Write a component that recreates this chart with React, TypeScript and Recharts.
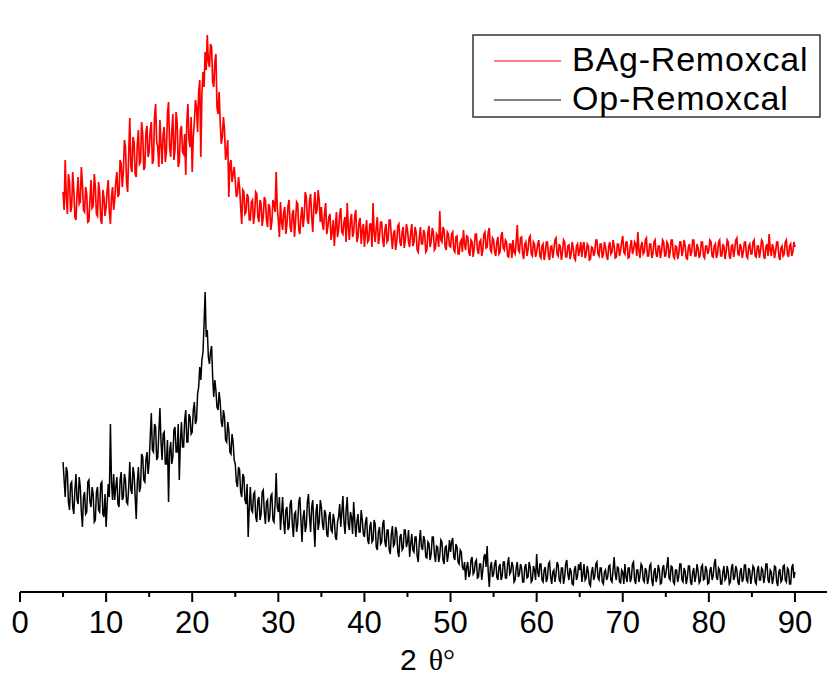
import React from "react";
import { LineChart, Line, XAxis, YAxis, Legend } from "recharts";

// XRD scans, 2θ from 5° to 90°, evenly stepped; intensity in arbitrary units.
// One row per 5° of 2θ.
const FIRST_ANGLE = 5;
const LAST_ANGLE = 90;

const BAG_REMOXCAL = [
  400, 382, 432, 395, 378, 418, 410, 380, 385, 420, 402, 375, 372, 398, 415, 388, 390, 425, 408, 382, 380, 405, 398, 370, 371, 392, 412, 384, 386, 418, 405, 378, 376, 410, 400, 372, 368, 402, 395, 376,
  385, 402, 412, 380, 368, 395, 405, 382, 392, 410, 420, 395, 398, 432, 428, 405, 420, 452, 445, 410, 400, 438, 474, 425, 420, 455, 450, 418, 415, 448, 462, 428, 430, 470, 458, 422, 425, 460, 466, 435,
  440, 462, 470, 428, 432, 475, 488, 450, 445, 425, 472, 448, 428, 458, 465, 430, 440, 478, 490, 445, 435, 460, 478, 432, 442, 480, 470, 425, 430, 462, 466, 440, 438, 458, 417, 470, 488, 452, 445, 475,
  420, 455, 470, 492, 485, 460, 500, 512, 435, 498, 520, 505, 540, 522, 557, 530, 525, 548, 545, 510, 505, 530, 538, 485, 478, 500, 470, 448, 455, 475, 462, 432, 440, 452, 395, 428, 432, 410, 418, 425,
  412, 395, 398, 415, 405, 385, 368, 402, 400, 378, 380, 398, 395, 372, 372, 390, 392, 368, 378, 400, 398, 375, 370, 392, 388, 366, 375, 395, 392, 372, 365, 388, 385, 362, 370, 392, 388, 380, 420, 385,
  372, 355, 390, 370, 362, 380, 385, 358, 368, 386, 392, 365, 360, 378, 382, 355, 370, 390, 388, 362, 358, 375, 385, 365, 375, 400, 395, 372, 368, 392, 398, 375, 360, 385, 400, 378, 382, 402, 392, 370,
  385, 368, 362, 380, 389, 358, 365, 375, 378, 352, 360, 372, 346, 365, 380, 355, 362, 378, 384, 360, 358, 370, 375, 350, 389, 365, 352, 372, 378, 355, 360, 376, 382, 350, 355, 370, 374, 348, 362, 368,
  345, 360, 372, 350, 352, 368, 368, 345, 389, 360, 350, 365, 375, 348, 355, 370, 370, 352, 345, 362, 368, 350, 352, 372, 372, 355, 343, 358, 362, 342, 350, 366, 368, 350, 346, 360, 365, 344, 352, 368,
  362, 350, 345, 360, 368, 346, 350, 365, 360, 342, 340, 355, 365, 348, 348, 362, 358, 340, 342, 360, 366, 345, 350, 364, 360, 342, 344, 358, 356, 345, 381, 352, 350, 365, 362, 345, 342, 360, 358, 346,
  345, 358, 360, 342, 340, 355, 356, 338, 338, 350, 352, 340, 362, 348, 342, 356, 355, 340, 336, 352, 350, 335, 344, 358, 358, 342, 338, 350, 352, 336, 342, 358, 360, 344, 345, 360, 364, 342, 340, 354,
  352, 340, 336, 350, 355, 338, 340, 356, 360, 344, 342, 352, 350, 336, 335, 348, 348, 334, 352, 340, 338, 350, 367, 342, 340, 354, 355, 338, 333, 348, 350, 336, 342, 354, 356, 338, 336, 350, 348, 335,
  340, 348, 352, 336, 334, 346, 348, 332, 338, 350, 350, 336, 332, 345, 346, 334, 342, 352, 354, 338, 336, 348, 345, 332, 340, 352, 350, 335, 335, 346, 347, 333, 338, 350, 344, 334, 332, 346, 348, 336,
  342, 350, 335, 346, 350, 334, 338, 348, 346, 332, 333, 345, 344, 336, 340, 352, 352, 338, 336, 348, 348, 334, 338, 350, 345, 336, 332, 346, 350, 338, 340, 352, 346, 334, 335, 348, 348, 336, 342, 350,
  356, 340, 338, 350, 350, 334, 335, 346, 352, 338, 342, 350, 348, 336, 360, 342, 334, 346, 350, 338, 340, 352, 354, 336, 336, 348, 348, 334, 338, 350, 352, 338, 335, 346, 346, 334, 340, 352, 350, 336,
  336, 350, 348, 334, 340, 352, 352, 336, 334, 346, 345, 333, 338, 350, 350, 336, 342, 352, 346, 334, 333, 345, 348, 336, 340, 352, 352, 336, 336, 348, 344, 334, 338, 350, 350, 336, 334, 346, 346, 338,
  342, 352, 350, 336, 335, 346, 348, 334, 338, 350, 352, 336, 336, 348, 345, 333, 340, 352, 350, 336, 333, 346, 347, 335, 342, 352, 354, 338, 337, 348, 345, 334, 340, 350, 350, 336, 334, 346, 348, 338,
  338, 350, 352, 336, 335, 346, 346, 334, 342, 352, 350, 336, 333, 345, 348, 336, 358, 342, 336, 348, 344, 334, 340, 350, 350, 336, 332, 344, 346, 336, 338, 350, 352, 338, 335, 346, 348, 336, 340, 350,
  345,
];

const OP_REMOXCAL = [
  130, 112, 95, 125, 120, 90, 82, 108, 110, 85, 78, 102, 118, 92, 88, 115, 105, 80, 65, 95, 100, 78, 80, 110, 112, 90, 85, 105, 98, 70, 72, 100, 105, 82, 80, 108, 110, 78, 75, 98,
  65, 88, 108, 95, 168, 110, 92, 118, 92, 105, 115, 88, 85, 112, 120, 92, 95, 118, 112, 90, 88, 105, 130, 102, 98, 125, 118, 95, 73, 110, 125, 100, 105, 138, 135, 112, 110, 132, 140, 118,
  130, 155, 179, 142, 140, 168, 165, 132, 135, 160, 184, 150, 132, 158, 160, 128, 128, 152, 90, 140, 150, 128, 135, 162, 165, 140, 140, 168, 112, 150, 170, 145, 145, 172, 182, 150, 150, 178, 175, 158,
  160, 182, 190, 168, 172, 198, 205, 225, 212, 232, 240, 268, 300, 255, 262, 235, 228, 240, 246, 215, 195, 212, 202, 185, 182, 200, 190, 170, 165, 182, 175, 152, 150, 170, 162, 140, 138, 158, 150, 132,
  128, 110, 105, 125, 122, 100, 95, 118, 115, 92, 88, 108, 55, 85, 105, 82, 80, 98, 100, 75, 70, 92, 95, 72, 78, 100, 102, 80, 68, 90, 92, 70, 75, 96, 98, 72, 70, 88, 119, 85,
  80, 95, 62, 78, 95, 70, 58, 82, 85, 62, 65, 88, 92, 68, 55, 78, 80, 60, 68, 90, 95, 72, 50, 75, 82, 60, 66, 90, 98, 75, 60, 85, 92, 66, 45, 80, 88, 62, 70, 92,
  85, 68, 62, 82, 78, 58, 55, 75, 80, 62, 60, 78, 72, 55, 52, 70, 75, 88, 65, 80, 96, 70, 58, 82, 95, 68, 62, 80, 75, 58, 90, 72, 55, 70, 78, 60, 60, 82, 72, 58,
  55, 70, 75, 52, 48, 65, 70, 50, 52, 72, 68, 45, 42, 60, 65, 48, 50, 68, 72, 50, 45, 62, 62, 42, 38, 58, 66, 46, 48, 65, 60, 40, 35, 55, 58, 42, 44, 62, 62, 45,
  50, 62, 35, 48, 58, 42, 40, 55, 55, 36, 30, 50, 62, 45, 42, 56, 52, 35, 34, 50, 48, 32, 38, 55, 55, 38, 30, 46, 45, 30, 36, 52, 50, 32, 28, 45, 46, 30, 38, 52,
  40, 50, 54, 35, 32, 48, 45, 30, 28, 42, 40, 25, 22, 30, 12, 25, 30, 15, 18, 32, 35, 18, 20, 30, 32, 14, 15, 28, 28, 12, 22, 35, 38, 25, 46, 20, 5, 25, 30, 15,
  18, 28, 32, 15, 12, 25, 28, 12, 16, 30, 30, 14, 14, 28, 35, 18, 20, 30, 26, 10, 12, 24, 30, 15, 18, 28, 24, 10, 10, 25, 28, 14, 15, 30, 25, 10, 12, 26, 22, 12,
  38, 20, 15, 28, 28, 12, 10, 22, 25, 10, 14, 28, 30, 15, 8, 20, 22, 10, 18, 30, 27, 12, 10, 24, 24, 8, 15, 28, 32, 18, 12, 24, 20, 8, 7, 22, 26, 12, 16, 28,
  22, 30, 10, 18, 28, 12, 14, 26, 20, 8, 6, 20, 25, 12, 16, 28, 30, 14, 12, 24, 24, 10, 8, 20, 22, 12, 15, 26, 27, 12, 10, 22, 35, 18, 12, 25, 24, 10, 9, 22,
  20, 8, 28, 15, 10, 24, 24, 10, 14, 28, 30, 12, 8, 22, 22, 10, 16, 28, 26, 12, 10, 24, 21, 8, 13, 26, 28, 12, 6, 20, 24, 10, 15, 27, 22, 8, 9, 24, 27, 14,
  18, 26, 35, 14, 12, 26, 25, 10, 8, 22, 22, 10, 15, 28, 28, 12, 10, 24, 20, 8, 14, 26, 26, 10, 7, 20, 24, 10, 16, 28, 21, 9, 11, 25, 27, 12, 13, 26, 22, 8,
  9, 22, 25, 12, 16, 28, 33, 15, 12, 24, 22, 8, 8, 20, 26, 12, 14, 26, 20, 8, 10, 24, 28, 12, 15, 26, 22, 10, 7, 20, 24, 10, 13, 27, 27, 12, 10, 24, 21, 8,
  16, 26, 24, 10, 8, 22, 26, 12, 12, 24, 22, 9, 15, 28, 28, 12, 9, 22, 20, 8, 14, 26, 25, 10, 6, 20, 23, 10, 12, 26, 27, 12, 10, 24, 22, 8, 8, 24, 28, 14,
  20,
];

const X_TICKS = [0, 5, 10, 15, 20, 25, 30, 35, 40, 45, 50, 55, 60, 65, 70, 75, 80, 85, 90];

const toPoints = (counts: number[]) => {
  const step = (LAST_ANGLE - FIRST_ANGLE) / (counts.length - 1);
  return counts.map((v, i) => ({ angle: FIRST_ANGLE + i * step, intensity: v }));
};

const SERIES = [
  { key: "bag", name: "BAg-Remoxcal", color: "#ff0000", width: 1.7, points: toPoints(BAG_REMOXCAL) },
  { key: "op", name: "Op-Remoxcal", color: "#000000", width: 1.5, points: toPoints(OP_REMOXCAL) },
];

const FONT = '"Liberation Sans", Arial, sans-serif';

function AxisTick(props: any) {
  const { x, y, payload } = props;
  const major = payload.value % 10 === 0;
  return (
    <g>
      <line x1={x} y1={y} x2={x} y2={y + (major ? 10 : 5)} stroke="#000" strokeWidth={2} />
      {major && (
        <text x={x} y={y + 41} textAnchor="middle" fontSize={31} fontFamily={FONT} fill="#000">
          {payload.value}
        </text>
      )}
    </g>
  );
}

function LegendBox() {
  return (
    <svg width={350} height={85} style={{ display: "block" }}>
      <rect x={1} y={1} width={347} height={82} fill="#fff" stroke="#333" strokeWidth={1.5} />
      {SERIES.map((s, i) => (
        <g key={s.key}>
          <line x1={22} x2={89} y1={27 + i * 39} y2={27 + i * 39} stroke={s.color} strokeWidth={1} />
          <text x={100} y={37 + i * 39} fontSize={34} letterSpacing={0.8} fontFamily={FONT} fill="#000">
            {s.name}
          </text>
        </g>
      ))}
    </svg>
  );
}

export default function App() {
  return (
    <div style={{ position: "absolute", left: 0, top: 0, background: "#fff" }}>
      <LineChart width={827} height={675} margin={{ top: 0, right: 0, bottom: 0, left: 20 }}>
        <XAxis
          dataKey="angle"
          type="number"
          domain={[0, 93.72]}
          ticks={X_TICKS}
          allowDataOverflow
          height={83}
          tickSize={0}
          tickMargin={0}
          tickLine={false}
          tick={<AxisTick />}
          axisLine={{ stroke: "#000", strokeWidth: 2 }}
          label={{
            content: () => (
              <text x={400} y={670} fontSize={30} fill="#000">
                <tspan fontFamily={FONT}>2</tspan>
                <tspan dx={12} fontFamily='"Liberation Serif", "Times New Roman", serif'>θ°</tspan>
              </text>
            ),
          }}
        />
        <YAxis
          type="number"
          domain={[0, 592]}
          allowDataOverflow
          width={0}
          tick={false}
          tickLine={false}
          axisLine={{ stroke: "#000", strokeWidth: 2 }}
        />
        <Legend
          layout="horizontal"
          verticalAlign="middle"
          align="center"
          wrapperStyle={{ top: 34, left: 472, width: 350, height: 85 }}
          content={() => <LegendBox />}
        />
        {SERIES.map((s) => (
          <Line
            key={s.key}
            data={s.points}
            dataKey="intensity"
            name={s.name}
            stroke={s.color}
            strokeWidth={s.width}
            dot={false}
            type="linear"
            isAnimationActive={false}
          />
        ))}
      </LineChart>
    </div>
  );
}
